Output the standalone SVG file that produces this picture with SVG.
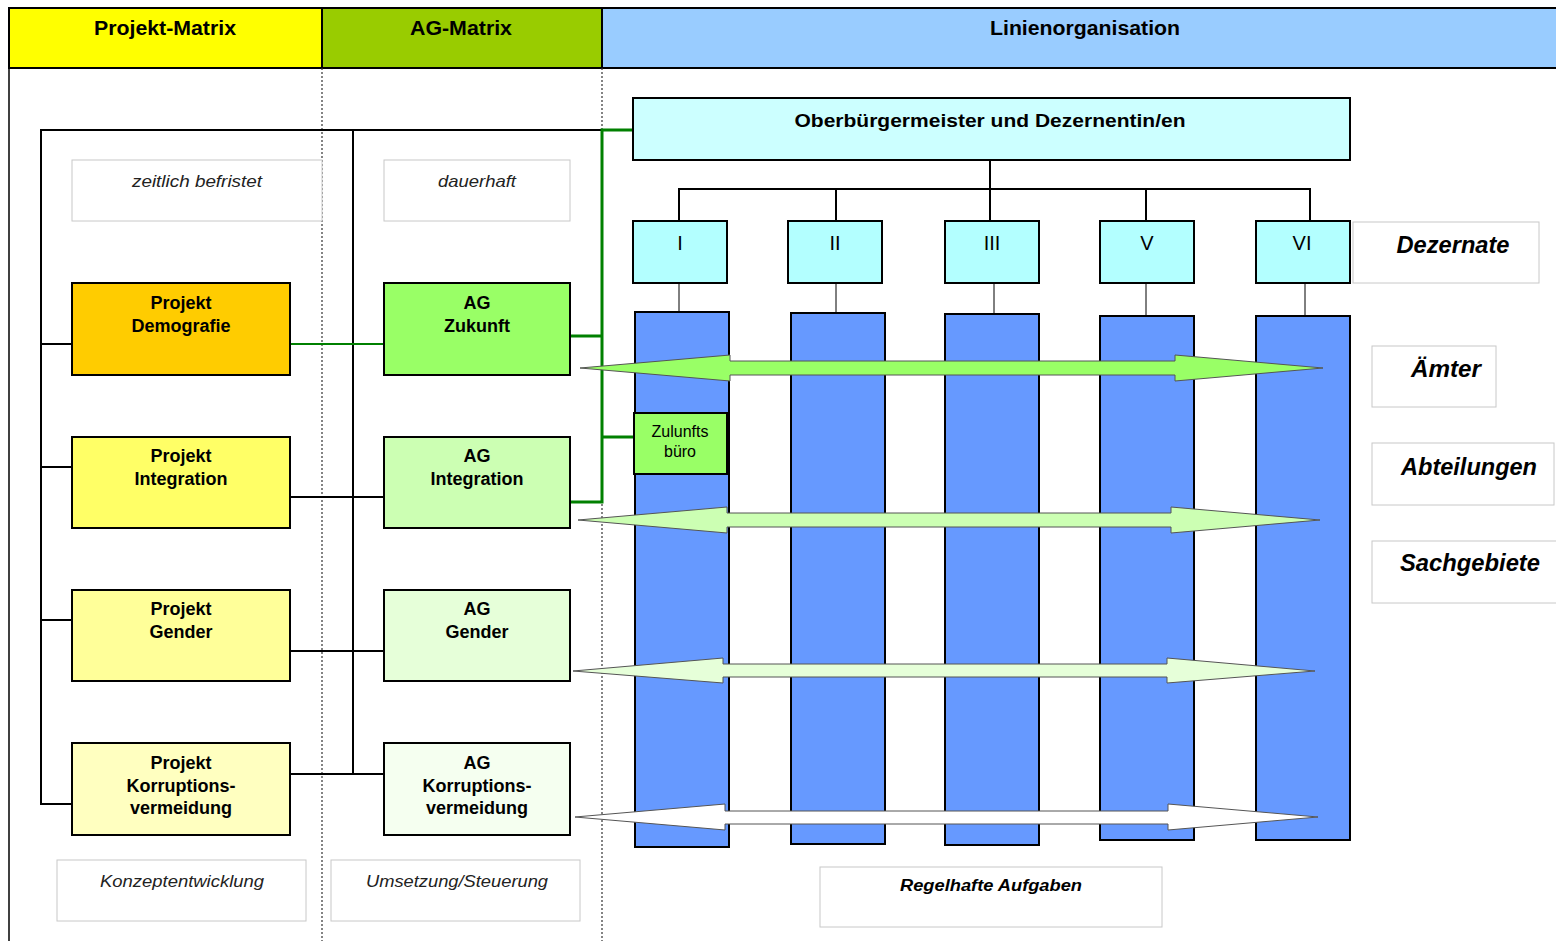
<svg xmlns="http://www.w3.org/2000/svg" width="1556" height="941" viewBox="0 0 1556 941">
<style>
text{font-family:"Liberation Sans",Arial,sans-serif;fill:#000}
.hd{font-size:20px;font-weight:bold;text-anchor:middle}
.bx{stroke:#000;stroke-width:2}
.bt{font-size:18px;font-weight:bold;text-anchor:middle}
.lab{fill:#fff;stroke:#c8c8c8;stroke-width:1}
.it{font-size:17px;font-style:italic;text-anchor:middle;fill:#222}
.bi{font-weight:bold;font-style:italic;text-anchor:middle}
.rl{font-size:23px}
.col{fill:#6699FF;stroke:#000;stroke-width:2}
.dz{fill:#B3FFFF;stroke:#000;stroke-width:2}
.rn{font-size:20px;text-anchor:middle}
.ln{stroke:#000;stroke-width:2;fill:none}
.thin{stroke:#000;stroke-width:1;fill:none}
.gr{stroke:#008000;stroke-width:3;fill:none}
.dot{stroke:#333;stroke-width:1.2;stroke-dasharray:2 2;fill:none}
.arr{stroke:#555;stroke-width:1}
</style>
<rect width="1556" height="941" fill="#fff"/>
<g id="header">
<rect x="9" y="8" width="313" height="60" fill="#FFFF00" stroke="#000" stroke-width="2"/>
<rect x="322" y="8" width="280" height="60" fill="#99CC00" stroke="#000" stroke-width="2"/>
<rect x="602" y="8" width="960" height="60" fill="#99CCFF" stroke="#000" stroke-width="2"/>
<text class="hd" x="165" y="35" textLength="142" lengthAdjust="spacingAndGlyphs">Projekt-Matrix</text>
<text class="hd" x="461" y="35" textLength="102" lengthAdjust="spacingAndGlyphs">AG-Matrix</text>
<text class="hd" x="1085" y="35" textLength="190" lengthAdjust="spacingAndGlyphs">Linienorganisation</text>
</g>
<g id="frame">
<line x1="9" y1="68" x2="9" y2="941" stroke="#000" stroke-width="1.5"/>
<line class="dot" x1="322" y1="68" x2="322" y2="941"/>
<line class="dot" x1="602" y1="68" x2="602" y2="941"/>
</g>
<g id="connectors">
<line class="ln" x1="41" y1="130" x2="602" y2="130"/>
<line class="ln" x1="41" y1="129" x2="41" y2="805"/>
<line class="ln" x1="353" y1="129" x2="353" y2="775"/>
<line class="ln" x1="41" y1="344" x2="72" y2="344"/>
<line class="ln" x1="41" y1="467" x2="72" y2="467"/>
<line class="ln" x1="41" y1="620" x2="72" y2="620"/>
<line class="ln" x1="41" y1="804" x2="72" y2="804"/>
<line stroke="#008000" stroke-width="2" x1="290" y1="344" x2="384" y2="344"/>
<line class="ln" x1="290" y1="497" x2="384" y2="497"/>
<line class="ln" x1="290" y1="651" x2="384" y2="651"/>
<line class="ln" x1="290" y1="774" x2="384" y2="774"/>
<path class="gr" d="M633,130 H602 V502 H570 M570,336 H602 M602,437 H634"/>
<line class="ln" x1="990" y1="160" x2="990" y2="189"/>
<line class="ln" x1="678" y1="189" x2="1311" y2="189"/>
<line class="ln" x1="679" y1="189" x2="679" y2="221"/>
<line class="ln" x1="836" y1="189" x2="836" y2="221"/>
<line class="ln" x1="990" y1="189" x2="990" y2="221"/>
<line class="ln" x1="1146" y1="189" x2="1146" y2="221"/>
<line class="ln" x1="1310" y1="189" x2="1310" y2="221"/>
<line class="thin" x1="679" y1="283" x2="679" y2="312"/>
<line class="thin" x1="836" y1="283" x2="836" y2="313"/>
<line class="thin" x1="994" y1="283" x2="994" y2="314"/>
<line class="thin" x1="1146" y1="283" x2="1146" y2="316"/>
<line class="thin" x1="1305" y1="283" x2="1305" y2="316"/>
</g>
<g id="label-zeitlich"><rect class="lab" x="72" y="160" width="250" height="61"/><text class="it" x="197" y="187" textLength="130" lengthAdjust="spacingAndGlyphs">zeitlich befristet</text></g>
<g id="label-dauerhaft"><rect class="lab" x="384" y="160" width="186" height="61"/><text class="it" x="477" y="187" textLength="78" lengthAdjust="spacingAndGlyphs">dauerhaft</text></g>
<g id="p-demografie"><rect class="bx" x="72" y="283" width="218" height="92" fill="#FFCC00"/><text class="bt" x="181" y="309">Projekt</text><text class="bt" x="181" y="332">Demografie</text></g>
<g id="p-integration"><rect class="bx" x="72" y="437" width="218" height="91" fill="#FFFF66"/><text class="bt" x="181" y="462">Projekt</text><text class="bt" x="181" y="485">Integration</text></g>
<g id="p-gender"><rect class="bx" x="72" y="590" width="218" height="91" fill="#FFFF99"/><text class="bt" x="181" y="615">Projekt</text><text class="bt" x="181" y="638">Gender</text></g>
<g id="p-korruption"><rect class="bx" x="72" y="743" width="218" height="92" fill="#FFFFC0"/><text class="bt" x="181" y="769">Projekt</text><text class="bt" x="181" y="792">Korruptions-</text><text class="bt" x="181" y="814">vermeidung</text></g>
<g id="ag-zukunft"><rect class="bx" x="384" y="283" width="186" height="92" fill="#99FF66"/><text class="bt" x="477" y="309">AG</text><text class="bt" x="477" y="332">Zukunft</text></g>
<g id="ag-integration"><rect class="bx" x="384" y="437" width="186" height="91" fill="#CCFFB3"/><text class="bt" x="477" y="462">AG</text><text class="bt" x="477" y="485">Integration</text></g>
<g id="ag-gender"><rect class="bx" x="384" y="590" width="186" height="91" fill="#E6FFD9"/><text class="bt" x="477" y="615">AG</text><text class="bt" x="477" y="638">Gender</text></g>
<g id="ag-korruption"><rect class="bx" x="384" y="743" width="186" height="92" fill="#F5FFF0"/><text class="bt" x="477" y="769">AG</text><text class="bt" x="477" y="792">Korruptions-</text><text class="bt" x="477" y="814">vermeidung</text></g>
<g id="label-konzept"><rect class="lab" x="57" y="860" width="249" height="61"/><text class="it" x="182" y="887" textLength="164" lengthAdjust="spacingAndGlyphs">Konzeptentwicklung</text></g>
<g id="label-umsetzung"><rect class="lab" x="331" y="860" width="249" height="61"/><text class="it" x="457" y="887" textLength="182" lengthAdjust="spacingAndGlyphs">Umsetzung/Steuerung</text></g>
<g id="obm"><rect class="bx" x="633" y="98" width="717" height="62" fill="#CCFFFF"/><text x="990" y="127" style="font-size:19px;font-weight:bold;text-anchor:middle" textLength="391" lengthAdjust="spacingAndGlyphs">Oberbürgermeister und Dezernentin/en</text></g>
<g id="dez-I"><rect class="dz" x="633" y="221" width="94" height="62"/><text class="rn" x="680" y="250">I</text></g>
<g id="dez-II"><rect class="dz" x="788" y="221" width="94" height="62"/><text class="rn" x="835" y="250">II</text></g>
<g id="dez-III"><rect class="dz" x="945" y="221" width="94" height="62"/><text class="rn" x="992" y="250">III</text></g>
<g id="dez-V"><rect class="dz" x="1100" y="221" width="94" height="62"/><text class="rn" x="1147" y="250">V</text></g>
<g id="dez-VI"><rect class="dz" x="1256" y="221" width="94" height="62"/><text class="rn" x="1302" y="250">VI</text></g>
<g id="col-I"><rect class="col" x="635" y="312" width="94" height="535"/></g>
<g id="col-II"><rect class="col" x="791" y="313" width="94" height="531"/></g>
<g id="col-III"><rect class="col" x="945" y="314" width="94" height="531"/></g>
<g id="col-V"><rect class="col" x="1100" y="316" width="94" height="524"/></g>
<g id="col-VI"><rect class="col" x="1256" y="316" width="94" height="524"/></g>
<g id="arrows">
<path class="arr" fill="#99FF66" d="M580,368 L730,355 L730,361 L1175,361 L1175,355 L1323,368 L1175,381 L1175,375 L730,375 L730,381 Z"/>
<path class="arr" fill="#CCFFB3" d="M578,520 L727,507 L727,513 L1171,513 L1171,507 L1320,520 L1171,533 L1171,527 L727,527 L727,533 Z"/>
<path class="arr" fill="#E6FFD9" d="M573,671 L723,658 L723,664 L1167,664 L1167,658 L1315,671 L1167,683 L1167,677 L723,677 L723,683 Z"/>
<path class="arr" fill="#FFFFFF" d="M575,817 L725,804 L725,811 L1168,811 L1168,804 L1318,817 L1168,830 L1168,824 L725,824 L725,830 Z"/>
</g>
<g id="zukunftsbuero"><rect class="bx" x="634" y="413" width="93" height="61" fill="#99FF66"/><text x="680" y="437" style="font-size:16px;text-anchor:middle">Zulunfts</text><text x="680" y="457" style="font-size:16px;text-anchor:middle">büro</text></g>
<g id="label-dezernate"><rect class="lab" x="1353" y="222" width="186" height="61"/><text class="bi rl" x="1453" y="253" textLength="113" lengthAdjust="spacingAndGlyphs">Dezernate</text></g>
<g id="label-aemter"><rect class="lab" x="1372" y="346" width="124" height="61"/><text class="bi rl" x="1446" y="377" textLength="70" lengthAdjust="spacingAndGlyphs">Ämter</text></g>
<g id="label-abteilungen"><rect class="lab" x="1372" y="443" width="182" height="62"/><text class="bi rl" x="1469" y="475" textLength="136" lengthAdjust="spacingAndGlyphs">Abteilungen</text></g>
<g id="label-sachgebiete"><rect class="lab" x="1372" y="541" width="190" height="62"/><text class="bi rl" x="1470" y="571" textLength="140" lengthAdjust="spacingAndGlyphs">Sachgebiete</text></g>
<g id="label-regelhaft"><rect class="lab" x="820" y="867" width="342" height="60"/><text class="bi" x="991" y="891" style="font-size:16px" textLength="182" lengthAdjust="spacingAndGlyphs">Regelhafte  Aufgaben</text></g>
</svg>
